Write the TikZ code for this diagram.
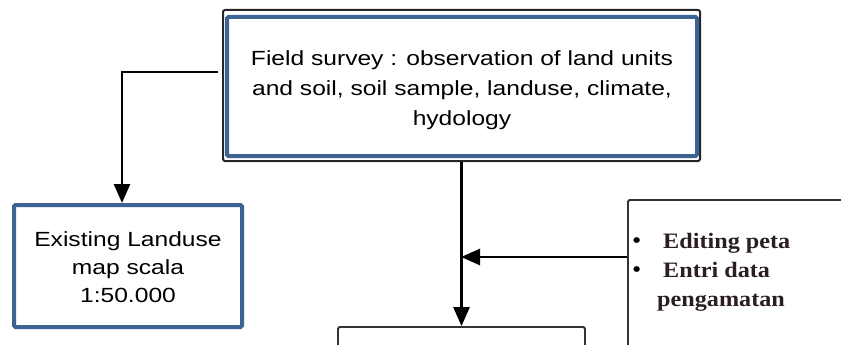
\documentclass[tikz,border=0pt]{standalone}
\usepackage{fontspec}
\setmainfont{Liberation Sans}
\newfontfamily\widesans[FakeStretch=1.2]{Liberation Sans}
\newfontfamily\serifbox[FakeStretch=1.1]{Liberation Serif}
\usetikzlibrary{arrows.meta}
\definecolor{boxblue}{HTML}{3D6394}
\definecolor{inkdark}{HTML}{2A1E22}
\tikzset{
  bluebox/.style={draw=boxblue, line width=4pt, rounded corners=1.5pt, fill=white, align=center, inner sep=0pt},
  frameline/.style={draw=black!85, line width=2pt, rounded corners=2pt},
  thinbox/.style={draw=black!80, line width=1.8pt, rounded corners=1.5pt},
  conn/.style={draw=black, line width=2.6pt, -{Triangle[length=19pt,width=16pt]}},
  sanstext/.style={font=\widesans\fontsize{20.5}{30}\selectfont, align=center, inner sep=0pt},
  bultext/.style={font=\serifbox\bfseries\fontsize{22}{22}\selectfont, text=inkdark, anchor=base west, inner sep=0pt},
  bulmark/.style={font=\serifbox\fontsize{24}{24}\selectfont, text=black, anchor=base west, inner sep=0pt},
}
\begin{document}
\begin{tikzpicture}[x=1pt,y=-1pt]
\useasboundingbox (0,0) rectangle (841,345);
\clip (0,0) rectangle (841,345);
% frame behind field box
\node[frameline, minimum width=477pt, minimum height=151pt, inner sep=0pt] (frame) at (461.5,85.5) {};
\node[bluebox, minimum width=470pt, minimum height=139pt] (field) at (462,86.5) {};
\node[sanstext] (fieldtxt) at ([yshift=-4pt]field.center)
  {Field survey : observation of land units\\and soil, soil sample, landuse, climate,\\hydology};
% existing landuse
\node[bluebox, minimum width=228pt, minimum height=122pt] (exist) at (128,266) {};
\node[sanstext, font=\widesans\fontsize{20.5}{28}\selectfont] (existtxt) at ([yshift=-1pt]exist.center)
  {Existing Landuse\\map scala\\1:50.000};
% bottom box (cut off)
\node[thinbox, minimum width=247pt, minimum height=60pt, inner sep=0pt] (bottom) at (461.5,357) {};
% bullet box (cut off)
\node[thinbox, minimum width=260pt, minimum height=180pt, inner sep=0pt] (bullet) at (758,290) {};
\node[bulmark] (b1) at (632,248) {•};
\node[bultext] (t1) at (663,248) {Editing peta};
\node[bulmark] (b2) at (632,277) {•};
\node[bultext] (t2) at (663,277) {Entri data};
\node[bultext] (t3) at (657,306) {pengamatan};
% connectors
\coordinate (lstart) at (218,72);
\coordinate (j) at (461,257);
\draw[conn] (lstart) -| ([xshift=-6pt]exist.north);
\draw[conn] (frame.south) -- (bottom.north);
\draw[conn] (bullet.west |- j) -- (j);
\end{tikzpicture}
\end{document}
